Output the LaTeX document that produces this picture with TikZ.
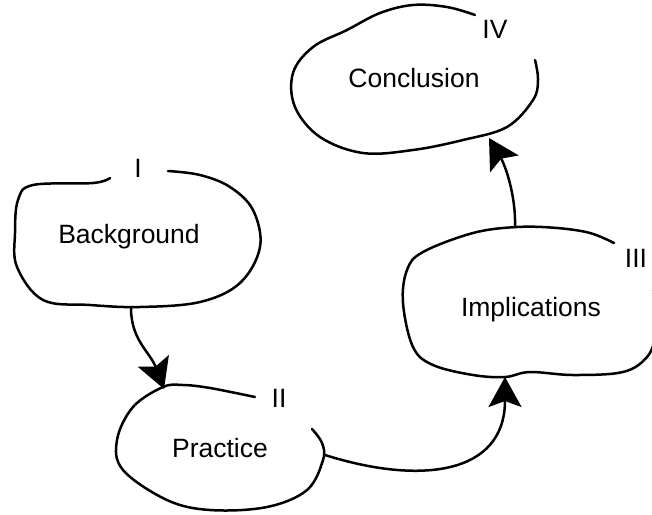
\documentclass[tikz,border=0pt]{standalone}
\usepackage{fontspec}
\setmainfont{Liberation Sans}
\usetikzlibrary{arrows.meta}

\tikzset{
  blob/.style={draw=black, line width=2.5pt, line cap=round, line join=round},
  link/.style={draw=black, line width=2.5pt, line cap=round,
    -{Stealth[length=30pt, width=33pt, inset=6pt]}},
  caption/.style={font=\fontsize{26.5}{31}\selectfont, anchor=base, inner sep=0pt},
  numeral/.style={font=\fontsize{26.5}{31}\selectfont, anchor=base, inner sep=0pt}
}

\begin{document}
\begin{tikzpicture}[x=1pt, y=-1pt]
  \useasboundingbox[fill=white] (0,0) rectangle (652,514);

  % stage I
  \draw[blob] plot[smooth, tension=0.6] coordinates {
    (110,178) (93,183) (33,185) (18,200) (15,233) (17,267) (43,300)
    (90,305) (140,307) (200,302) (240,283) (260,247) (253,210)
    (230,187) (200,175) (168,171)};
  \node[caption] (bg) at (129,243) {Background};
  \node[numeral] (n1) at (138,177) {I};

  % stage II
  \draw[blob] plot[smooth, tension=0.6] coordinates {
    (255,397) (210,388) (183,385) (163,387) (133,407) (117,440)
    (123,470) (167,500) (210,510) (267,507) (307,490) (323,460)
    (322,443) (312,429)};
  \node[caption] (pr) at (220,457) {Practice};
  \node[numeral] (n2) at (279,407) {II};

  % stage III
  \draw[blob] plot[smooth, tension=0.6] coordinates {
    (614,243) (590,233) (557,228) (517,227) (473,233) (423,252)
    (407,270) (403,303) (413,347) (433,365) (473,375) (505,377)
    (530,372) (573,375) (623,372) (647,357) (656,335) (659,312) (653,290)};
  \node[caption] (im) at (531,316) {Implications};
  \node[numeral] (n3) at (636,267) {III};

  % stage IV
  \draw[blob] plot[smooth, tension=0.6] coordinates {
    (475,15) (447,7) (413,5) (380,13) (347,30) (313,47) (293,73)
    (295,107) (320,137) (363,153) (413,150) (463,140) (507,127)
    (533,100) (538,80) (535,60)};
  \node[caption] (co) at (414,87) {Conclusion};
  \node[numeral] (n4) at (495,38) {IV};

  % attachment points on the outlines
  \coordinate (bgOut) at (131,308);
  \coordinate (prIn)  at (164,389);
  \coordinate (prOut) at (325,455);
  \coordinate (imIn)  at (505,377);
  \coordinate (imOut) at (515,227);
  \coordinate (coIn)  at (489,138);

  % flow between stages
  \draw[link] (bgOut) .. controls (131,340) and (150,352) .. (prIn);
  \draw[link] (prOut) .. controls (420,485) and (505,475) .. (imIn);
  \draw[link] (imOut) .. controls (516,195) and (505,165) .. (coIn);
\end{tikzpicture}
\end{document}
